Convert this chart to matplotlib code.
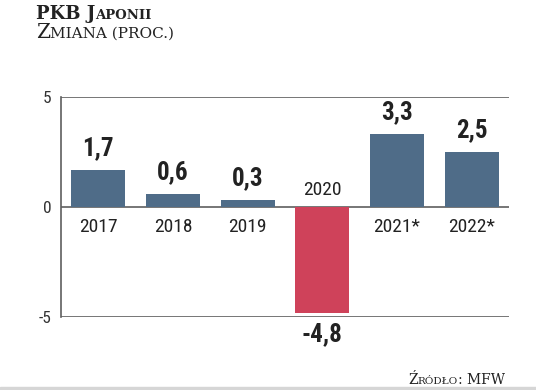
import matplotlib
matplotlib.use("Agg")
import matplotlib.pyplot as plt
from matplotlib import font_manager

years = ["2017", "2018", "2019", "2020", "2021*", "2022*"]
values = [1.7, 0.6, 0.3, -4.8, 3.3, 2.5]
value_labels = ["1,7", "0,6", "0,3", "-4,8", "3,3", "2,5"]
yticks = [-5, 0, 5]

available = {f.name for f in font_manager.fontManager.ttflist}
cond = "DejaVu Sans"
for name in ["Liberation Sans Narrow", "DejaVu Sans Condensed", "Roboto Condensed"]:
    if name in available:
        cond = name
        break
serif = ["DejaVu Serif"]

blue = "#4f6c88"
red = "#cf425a"
line_col = "#5f5f5f"
text_col = "#222222"

fig = plt.figure(figsize=(5.36, 3.9), dpi=100)
ax = fig.add_axes([61 / 536, 1 - 317 / 390, 448 / 536, 220 / 390])

x = list(range(len(years)))
colors = [red if v < 0 else blue for v in values]
ax.bar(x, values, width=0.72, color=colors, zorder=3)

for yv in yticks:
    ax.axhline(yv, color=line_col, lw=1.2, zorder=2)

ax.set_xlim(-0.5, 5.5)
ax.set_ylim(-5, 5)
for s in ["top", "right", "bottom"]:
    ax.spines[s].set_visible(False)
ax.spines["left"].set_color(line_col)
ax.spines["left"].set_linewidth(1.2)
ax.set_xticks([])
ax.set_yticks(yticks)
ax.set_yticklabels(["-5", "0", "5"], fontfamily=cond, fontsize=12.5, color="#333333")
ax.tick_params(axis="y", length=0, pad=7)

for i, (v, lab, yr) in enumerate(zip(values, value_labels, years)):
    if v >= 0:
        ax.annotate(lab, (i, v), xytext=(0, 7), textcoords="offset points",
                    ha="center", va="bottom", fontsize=18, fontweight="bold",
                    fontfamily=cond, color=text_col)
        ax.annotate(yr, (i, 0), xytext=(0, -8), textcoords="offset points",
                    ha="center", va="top", fontsize=14, fontfamily=cond, color=text_col)
    else:
        ax.annotate(lab, (i, -5), xytext=(0, -4), textcoords="offset points",
                    ha="center", va="top", fontsize=18, fontweight="bold",
                    fontfamily=cond, color=text_col)
        ax.annotate(yr, (i, 0), xytext=(0, 6), textcoords="offset points",
                    ha="center", va="bottom", fontsize=14, fontfamily=cond, color=text_col)


# title drawn as small caps: capitals large, the rest smaller, placed one after another
def draw_sc(chunks, x0, y0, weight):
    renderer = fig.canvas.get_renderer()
    xpix = x0
    for txt, size in chunks:
        t = fig.text(xpix / 536, 1 - y0 / 390, txt, fontsize=size, fontfamily=serif,
                     fontweight=weight, color=text_col, va="baseline", ha="left")
        xpix += t.get_window_extent(renderer).width


draw_sc([("PKB J", 13), ("APONII", 9.5)], 36, 19, "bold")
draw_sc([("Z", 14.5), ("MIANA (PROC.)", 11)], 36, 38, "normal")
draw_sc([("Ź", 10), ("RÓDŁO", 7.5), (": MFW", 10)], 408, 384, "normal")

fig.patches.append(matplotlib.patches.Rectangle((0, 0), 1, 3 / 390, transform=fig.transFigure,
                                                 color="#d6d6d6", zorder=0))

fig.savefig("out.png", dpi=100)
